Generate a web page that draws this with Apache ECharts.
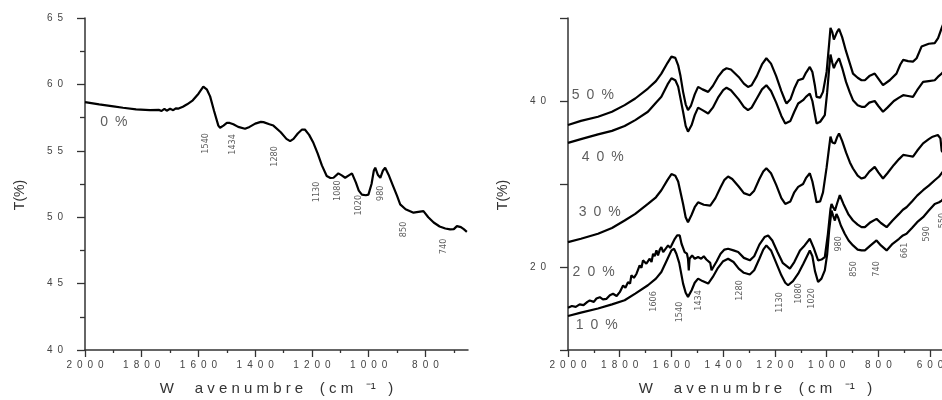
<!DOCTYPE html>
<html>
<head>
<meta charset="utf-8">
<script src="https://cdn.jsdelivr.net/npm/echarts@6/dist/echarts.min.js"></script>
<style>html,body{margin:0;padding:0;background:#fff}#c{width:942px;height:400px}</style>
</head>
<body>
<div id="c"></div>
<script>
// ---------- data ----------
const xTicksLeft = [2000, 1800, 1600, 1400, 1200, 1000, 800];
const xMinorLeft = [1900, 1700, 1500, 1300, 1100, 900, 700];
const xTicksRight = [2000, 1800, 1600, 1400, 1200, 1000, 800, 600];
const xMinorRight = [1900, 1700, 1500, 1300, 1100, 900, 700];
const yLabelsRight = [20, 40];
const xTitle = 'W     a v e n u m b r e    ( c m   \u207B\u00B9   )';
const yTitle = 'T(%)';

const s0 = [[2000,58.67],[1950,58.5],[1900,58.35],[1866,58.24],[1820,58.12],[1771,58.07],[1740,58.08],[1730,58.0],[1720,58.15],[1712,58.02],[1700,58.16],[1689,58.06],[1680,58.2],[1670,58.18],[1655,58.32],[1640,58.5],[1620,58.8],[1600,59.3],[1583,59.83],[1570,59.6],[1559,59.1],[1545,58.0],[1530,56.9],[1524,56.74],[1512,56.9],[1500,57.1],[1490,57.1],[1477,57.0],[1460,56.8],[1436,56.66],[1420,56.8],[1400,57.05],[1380,57.18],[1371,57.16],[1350,57.0],[1336,56.9],[1310,56.4],[1290,55.9],[1277,55.73],[1265,55.9],[1250,56.3],[1235,56.6],[1225,56.6],[1210,56.2],[1195,55.6],[1180,54.8],[1165,53.9],[1148,53.1],[1135,52.95],[1124,52.97],[1107,53.3],[1095,53.15],[1083,52.97],[1070,53.15],[1059,53.3],[1045,52.6],[1035,52.0],[1024,51.7],[1010,51.65],[1001,51.7],[990,52.5],[982,53.5],[977,53.73],[968,53.2],[959,52.97],[950,53.5],[942,53.73],[930,53.2],[915,52.4],[900,51.6],[889,50.97],[870,50.6],[842,50.34],[825,50.4],[807,50.46],[790,50.0],[771,49.6],[750,49.3],[730,49.15],[713,49.08],[700,49.1],[689,49.33],[675,49.25],[665,49.1],[654,48.9]];

const s50 = [[2000,37.1],[1950,37.6],[1884,38.1],[1830,38.7],[1781,39.5],[1740,40.3],[1691,41.5],[1660,42.4],[1639,43.3],[1615,44.6],[1600,45.35],[1585,45.2],[1574,44.3],[1565,43.0],[1555,41.1],[1545,39.6],[1536,38.9],[1525,39.4],[1510,40.8],[1497,41.7],[1480,41.4],[1458,41.1],[1440,41.8],[1420,42.9],[1400,43.7],[1387,43.95],[1370,43.8],[1340,42.9],[1320,42.1],[1304,41.7],[1290,41.9],[1270,43.0],[1250,44.4],[1233,45.15],[1215,44.5],[1195,43.0],[1175,41.2],[1160,40.0],[1155,39.7],[1140,40.2],[1125,41.5],[1110,42.5],[1091,42.7],[1080,43.4],[1065,44.1],[1055,43.5],[1045,41.8],[1039,40.5],[1025,40.4],[1014,41.1],[1000,43.5],[990,47.0],[985,48.8],[978,48.3],[972,47.4],[968,47.4],[960,48.3],[952,48.7],[940,47.7],[925,46.0],[910,44.5],[898,43.3],[880,42.8],[865,42.5],[852,42.5],[835,43.0],[814,43.3],[800,42.7],[782,41.9],[756,42.5],[730,43.3],[715,44.4],[704,44.95],[685,44.8],[666,44.75],[652,45.15],[633,46.56],[605,46.9],[582,46.97],[569,47.57],[555,48.8],[550,49.2]];

const s40 = [[2000,34.96],[1950,35.4],[1884,35.98],[1830,36.4],[1781,36.98],[1740,37.7],[1691,38.7],[1660,39.8],[1639,40.5],[1615,42.0],[1600,42.74],[1585,42.5],[1574,41.73],[1555,38.7],[1545,37.0],[1536,36.3],[1522,37.1],[1510,38.3],[1497,39.2],[1480,38.9],[1458,38.5],[1440,39.2],[1420,40.4],[1400,41.3],[1387,41.6],[1370,41.3],[1340,40.2],[1320,39.3],[1304,38.9],[1290,39.2],[1270,40.3],[1250,41.4],[1233,41.9],[1215,41.2],[1195,39.8],[1175,38.2],[1160,37.3],[1155,37.1],[1140,37.6],[1125,38.7],[1110,39.7],[1091,40.1],[1080,40.5],[1065,40.9],[1055,40.0],[1045,38.3],[1039,37.3],[1025,37.5],[1007,38.3],[998,41.0],[990,44.0],[985,45.6],[978,44.6],[972,43.95],[965,44.5],[952,45.15],[940,44.0],[925,42.3],[910,41.0],[898,40.1],[880,39.5],[865,39.3],[852,39.3],[835,39.8],[814,40.0],[800,39.4],[782,38.7],[765,39.2],[740,40.0],[720,40.4],[704,40.7],[685,40.6],[666,40.5],[650,41.3],[627,42.3],[605,42.4],[582,42.5],[570,42.9],[555,43.3],[550,43.5]];

const s30 = [[2000,23.0],[1950,23.4],[1884,24.0],[1830,24.7],[1781,25.6],[1740,26.4],[1691,27.6],[1660,28.4],[1639,29.25],[1615,30.5],[1600,31.2],[1585,31.0],[1574,30.3],[1555,27.6],[1545,26.0],[1536,25.4],[1522,26.3],[1510,27.2],[1497,27.8],[1475,27.5],[1450,27.4],[1430,28.3],[1410,29.6],[1395,30.5],[1381,30.9],[1365,30.6],[1340,29.7],[1320,28.9],[1297,28.65],[1280,29.2],[1260,30.6],[1245,31.5],[1233,31.9],[1215,31.3],[1195,29.9],[1175,28.3],[1160,27.6],[1155,27.4],[1140,27.9],[1125,29.0],[1110,29.65],[1091,30.0],[1080,30.7],[1065,31.3],[1055,30.3],[1045,28.8],[1039,27.8],[1025,27.9],[1014,29.0],[1000,32.0],[990,34.5],[985,35.7],[978,35.0],[968,34.9],[960,35.6],[952,36.1],[940,35.2],[925,33.8],[910,32.6],[898,31.87],[880,31.0],[865,30.66],[852,30.8],[835,31.5],[814,32.07],[800,31.4],[782,30.66],[765,31.3],[740,32.3],[720,33.0],[704,33.5],[685,33.4],[666,33.3],[650,34.0],[627,34.9],[605,35.4],[590,35.7],[570,35.9],[560,35.5],[555,34.0],[550,33.8]];

const s20 = [[2000,15.1],[1985,15.3],[1970,15.2],[1955,15.5],[1940,15.4],[1925,15.8],[1916,15.97],[1900,15.8],[1890,16.2],[1877,16.36],[1865,16.1],[1851,16.17],[1838,16.6],[1826,16.77],[1812,16.5],[1800,16.97],[1787,17.78],[1778,17.5],[1768,18.17],[1760,18.0],[1755,18.99],[1745,18.7],[1735,19.19],[1728,19.0],[1723,20.2],[1716,19.9],[1710,20.8],[1697,20.4],[1684,21.0],[1677,20.6],[1671,21.6],[1665,21.3],[1658,22.0],[1652,21.4],[1645,22.1],[1639,22.4],[1632,21.8],[1626,22.0],[1613,22.6],[1605,22.3],[1600,22.6],[1587,23.4],[1578,23.8],[1568,23.8],[1561,22.8],[1549,21.8],[1540,21.6],[1536,21.0],[1533,19.6],[1530,21.0],[1520,21.4],[1510,21.0],[1497,21.2],[1485,21.0],[1475,21.3],[1465,20.9],[1458,20.8],[1450,20.5],[1445,19.6],[1438,20.0],[1425,20.7],[1410,21.6],[1395,22.1],[1381,22.2],[1360,22.0],[1342,21.8],[1320,21.1],[1297,20.8],[1280,21.3],[1260,22.7],[1240,23.6],[1226,23.8],[1210,23.2],[1190,21.8],[1170,20.5],[1142,19.8],[1125,20.6],[1103,22.0],[1085,22.6],[1065,23.4],[1050,22.3],[1033,20.8],[1020,20.9],[1007,21.2],[995,24.0],[985,27.0],[981,27.6],[975,27.2],[968,26.8],[958,27.8],[949,28.65],[935,27.6],[915,26.3],[898,25.6],[880,25.1],[865,24.8],[852,24.8],[830,25.4],[807,25.8],[790,25.3],[768,24.8],[745,25.6],[720,26.4],[705,26.9],[691,27.2],[670,27.9],[650,28.6],[627,29.25],[605,29.8],[582,30.45],[565,30.9],[555,31.3],[550,31.5]];

const s10 = [[2000,14.1],[1950,14.5],[1884,15.0],[1830,15.5],[1781,16.0],[1740,16.8],[1691,17.8],[1660,18.6],[1639,19.4],[1615,21.0],[1600,22.0],[1590,22.2],[1581,21.6],[1570,20.5],[1555,18.0],[1545,16.9],[1536,16.4],[1522,17.2],[1510,18.1],[1497,18.6],[1480,18.3],[1458,18.0],[1440,18.8],[1420,19.9],[1400,20.7],[1381,21.0],[1360,20.6],[1340,19.8],[1320,19.3],[1297,19.1],[1280,19.6],[1260,21.0],[1245,22.1],[1233,22.6],[1215,22.0],[1195,20.5],[1175,19.0],[1160,18.1],[1149,17.8],[1130,18.3],[1110,19.2],[1090,20.4],[1065,22.0],[1055,21.3],[1045,19.5],[1033,18.2],[1020,18.6],[1007,19.6],[998,21.5],[990,24.5],[981,26.8],[975,26.2],[968,25.6],[962,26.4],[956,26.0],[945,25.0],[930,24.0],[915,23.2],[898,22.6],[880,22.1],[865,22.0],[852,22.0],[830,22.6],[807,23.2],[790,22.6],[768,22.0],[745,22.8],[720,23.4],[705,23.8],[691,24.0],[670,24.7],[650,25.4],[627,26.0],[605,26.8],[582,27.6],[565,27.8],[555,28.0],[550,28.2]];

// peak annotations: [text, wavenumber, T]
const peaksLeft = [['1540',1573,55.56],['1434',1478,55.48],['1280',1330,54.58],['1130',1185,51.9],['1080',1108,52.0],['1020',1037,50.9],['980',959,51.8],['850',878,49.08],['740',737,47.8]];
const peaksRight = [['1606',1670,15.85],['1540',1568,14.58],['1434',1496,15.97],['1280',1336,17.17],['1130',1181,15.72],['1080',1110,16.81],['1020',1059,16.21],['980',955,22.79],['850',897,19.77],['740',808,19.77],['661',698,22.0],['590',614,24.0],['550',550,25.6]];
// curve names: [text, wavenumber, T]
const namesLeft = [['0 %',1898,57.14]];
const namesRight = [['50 %',1904,40.72],['40 %',1866,33.24],['30 %',1877,26.6],['20 %',1901,19.35],['10 %',1889,12.95]];

// ---------- chart ----------
const sp = v => String(v).split('').join('\u2002');
const axisCol = '#333';
const lblCol = '#444';
const FONT = "'Liberation Sans', Arial, sans-serif";

function mainX(grid, min, ticks) {
  return {
    type: 'value', gridIndex: grid, min: min, max: 2000, inverse: true,
    axisLine: {show: true, onZero: false, lineStyle: {color: axisCol, width: 1.5}},
    axisTick: {show: true, customValues: ticks, length: 7, lineStyle: {color: axisCol, width: 1.3}},
    axisLabel: {show: true, customValues: ticks, formatter: v => sp(v), fontSize: 10, color: lblCol, margin: 10, fontFamily: FONT, hideOverlap: false},
    splitLine: {show: false},
    name: xTitle, nameLocation: 'middle', nameGap: 31,
    nameTextStyle: {fontSize: 15, color: '#333', fontFamily: FONT}
  };
}
function minorX(grid, min, ticks) {
  return {
    type: 'value', gridIndex: grid, min: min, max: 2000, inverse: true, position: 'bottom',
    axisLine: {show: false, onZero: false},
    axisTick: {show: true, customValues: ticks, length: 3, lineStyle: {color: axisCol, width: 1.3}},
    axisLabel: {show: false},
    splitLine: {show: false}
  };
}
function yAx(grid, min, max, interval, fmt, minor) {
  return {
    type: 'value', gridIndex: grid, min: min, max: max, interval: interval,
    axisLine: {show: true, onZero: false, lineStyle: {color: axisCol, width: 1.5}},
    axisTick: {show: true, length: 8, lineStyle: {color: axisCol, width: 1.3}},
    minorTick: {show: minor, splitNumber: 2, length: 5, lineStyle: {color: axisCol, width: 1.3}},
    axisLabel: {formatter: fmt, fontSize: 10, color: lblCol, margin: 22, fontFamily: FONT},
    splitLine: {show: false}, minorSplitLine: {show: false},
    name: yTitle, nameLocation: 'middle', nameGap: 58, nameRotate: 90,
    nameTextStyle: {fontSize: 14, color: '#333', fontFamily: FONT, padding: [0, 22, 0, 0]}
  };
}
function curve(data, xi, yi) {
  return {type: 'line', data: data, xAxisIndex: xi, yAxisIndex: yi, showSymbol: false, symbol: 'none',
    lineStyle: {color: '#000', width: 2.2}, silent: true, animation: false, z: 3};
}
function textSeries(items, xi, yi, style) {
  return {type: 'scatter', xAxisIndex: xi, yAxisIndex: yi, symbolSize: 1, silent: true, animation: false,
    itemStyle: {color: 'rgba(0,0,0,0)'}, z: 4,
    data: items.map(d => ({name: d[0], value: [d[1], d[2]]})),
    label: Object.assign({show: true, position: 'inside', formatter: p => p.name}, style)};
}
const peakStyle = {rotate: 90, fontSize: 9, color: '#333', fontFamily: "'Liberation Sans Narrow', 'DejaVu Sans Condensed', sans-serif"};
const nameStyle = {fontSize: 14, color: '#333', fontFamily: FONT,
  formatter: p => p.name.replace(/ /g, '').split('').join('\u2002')};

const chart = echarts.init(document.getElementById('c'), null, {renderer: 'canvas'});
chart.setOption({
  animation: false,
  backgroundColor: '#fff',
  grid: [
    {left: 85, top: 18, width: 383, height: 332, outerBoundsMode: 'none', containLabel: false},
    {left: 568, top: 18, width: 375, height: 332, outerBoundsMode: 'none', containLabel: false}
  ],
  xAxis: [
    mainX(0, 650, xTicksLeft), minorX(0, 650, xMinorLeft),
    mainX(1, 550, xTicksRight), minorX(1, 550, xMinorRight)
  ],
  yAxis: [
    yAx(0, 40, 65, 5, v => sp(v), true),
    yAx(1, 10, 50, 10, v => (yLabelsRight.indexOf(v) >= 0 ? sp(v) : ''), false)
  ],
  series: [
    curve(s0, 0, 0),
    curve(s50, 2, 1), curve(s40, 2, 1), curve(s30, 2, 1), curve(s20, 2, 1), curve(s10, 2, 1),
    textSeries(peaksLeft, 0, 0, peakStyle),
    textSeries(peaksRight, 2, 1, peakStyle),
    textSeries(namesLeft, 0, 0, nameStyle),
    textSeries(namesRight, 2, 1, nameStyle)
  ]
});
</script>
</body>
</html>
